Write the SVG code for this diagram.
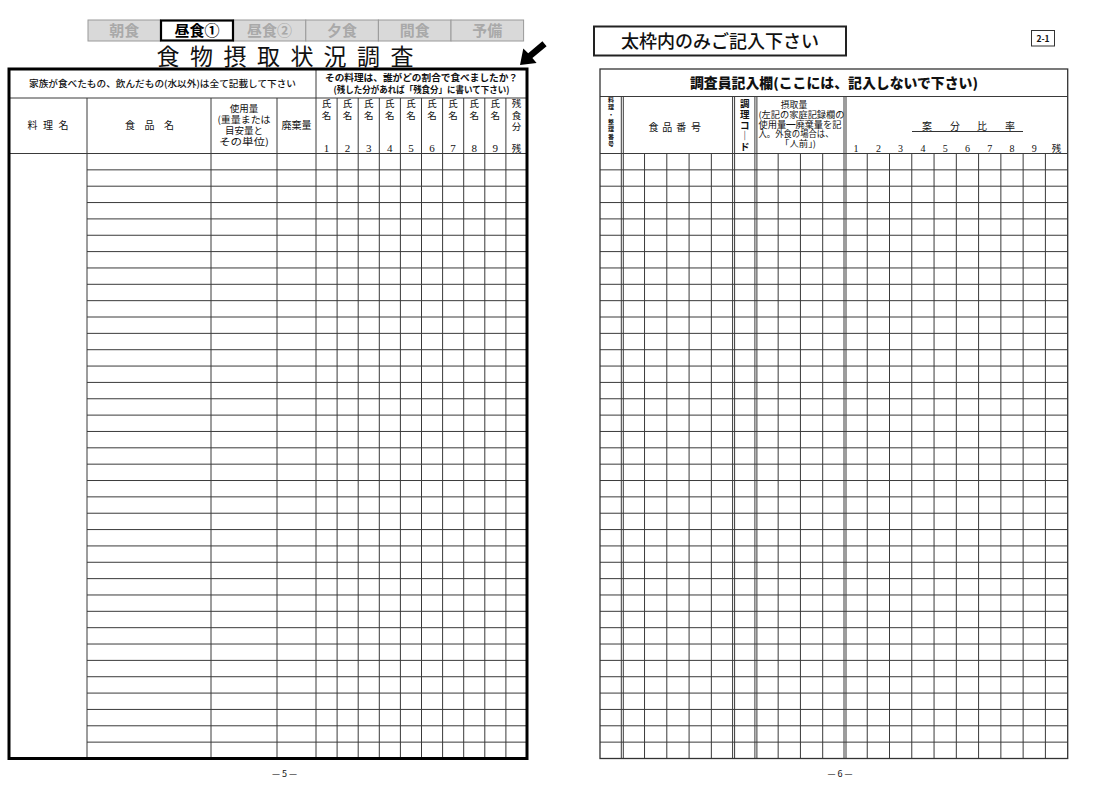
<svg xmlns="http://www.w3.org/2000/svg" width="1105" height="789" viewBox="0 0 1105 789">
<style>
.g{stroke:#3a3a3a;stroke-width:1;fill:none}
.t{font-family:"Noto Sans CJK JP","Noto Sans",sans-serif;fill:#111}
.n{font-family:"Liberation Serif","DejaVu Serif",serif;fill:#111}
.c{text-anchor:middle}
.tab{fill:#d9d9d9;stroke:#9a9a9a;stroke-width:1}
.tabt{font-family:"Noto Sans CJK JP",sans-serif;font-weight:700;font-size:15px;fill:#a9a9a9;text-anchor:middle}
.v{font-family:"Noto Sans CJK JP",sans-serif;font-size:6px;font-weight:700;fill:#111;text-anchor:middle}
.k{font-family:"Noto Sans CJK JP",sans-serif;font-size:9.5px;font-weight:700;fill:#111;text-anchor:middle}
</style>
<rect width="1105" height="789" fill="#fff"/>

<g id="meal-tabs">
<rect class="tab" x="88" y="20" width="72.6" height="21"/>
<rect class="tab" x="233.2" y="20" width="72.6" height="21"/>
<rect class="tab" x="305.8" y="20" width="72.6" height="21"/>
<rect class="tab" x="378.4" y="20" width="72.6" height="21"/>
<rect class="tab" x="451" y="20" width="72.6" height="21"/>
<rect x="161" y="20.5" width="72" height="20" fill="#fff" stroke="#000" stroke-width="2.2"/>
<text class="tabt" x="124.3" y="36">朝食</text>
<text class="tabt" x="197" y="36" style="fill:#000">昼食①</text>
<text class="tabt" x="269.5" y="36">昼食②</text>
<text class="tabt" x="342.1" y="36">夕食</text>
<text class="tabt" x="414.7" y="36">間食</text>
<text class="tabt" x="487.3" y="36">予備</text>
</g>

<g id="title">
<text class="t c" x="168 201.5 235 268.5 302 335 368.5 402" y="65" font-size="23" font-weight="400">食物摂取状況調査</text>
</g>

<g id="arrow">
<polygon points="542.4,41.2 546.6,46.3 532.4,58 536.6,63.1 520,65 523.3,48.4 528.2,53.3" fill="#000"/>
</g>

<g id="left-table">
<path class="g" d="M87 169.85h440m-440 16.351h440m-440 16.351h440m-440 16.351h440m-440 16.351h440m-440 16.351h440m-440 16.351h440m-440 16.351h440m-440 16.351h440m-440 16.351h440m-440 16.351h440m-440 16.351h440m-440 16.351h440m-440 16.351h440m-440 16.351h440m-440 16.351h440m-440 16.351h440m-440 16.351h440m-440 16.351h440m-440 16.351h440m-440 16.351h440m-440 16.351h440m-440 16.351h440m-440 16.351h440m-440 16.351h440m-440 16.351h440m-440 16.351h440m-440 16.351h440m-440 16.351h440m-440 16.351h440m-440 16.351h440m-440 16.351h440m-440 16.351h440m-440 16.351h440m-440 16.351h440m-440 16.351h440"/>
<path class="g" d="M9 98H527M9 153.5H527M87 98V758.5M211 98V758.5M277 98V758.5M337.1 98V758.5M358.2 98V758.5M379.3 98V758.5M400.4 98V758.5M421.5 98V758.5M442.6 98V758.5M463.7 98V758.5M484.8 98V758.5M505.9 98V758.5"/>
<path class="g" d="M316 69V758.5" stroke-width="1.7"/>
<rect x="9" y="69" width="518" height="689.5" fill="none" stroke="#000" stroke-width="3"/>

<text class="t c" x="162.5" y="87.3" font-size="9.2" font-weight="500" textLength="267" lengthAdjust="spacingAndGlyphs">家族が食べたもの、飲んだもの(水以外)は全て記載して下さい</text>
<text class="t c" x="421.5" y="81" font-size="9.5" font-weight="700" textLength="193" lengthAdjust="spacingAndGlyphs">その料理は、誰がどの割合で食べましたか？</text>
<text class="t c" x="421.5" y="92.7" font-size="9" font-weight="700" textLength="176" lengthAdjust="spacingAndGlyphs">(残した分があれば「残食分」に書いて下さい)</text>

<text class="t c" x="32.5 48 63.5" y="129" font-size="10">料理名</text>
<text class="t c" x="130 149.5 169" y="129" font-size="10">食品名</text>
<text class="t c" x="244" y="112" font-size="9.5">使用量</text>
<text class="t c" x="244" y="123" font-size="9.5" textLength="53" lengthAdjust="spacingAndGlyphs">(重量または</text>
<text class="t c" x="244" y="134" font-size="9.5">目安量と</text>
<text class="t c" x="244" y="145" font-size="9.5" textLength="50" lengthAdjust="spacingAndGlyphs">その単位)</text>
<text class="t c" x="296.5" y="129" font-size="10">廃棄量</text>

<text class="t c" x="326.5 347.6 368.7 389.8 410.9 432 453.1 474.2 495.3" y="107" font-size="9.5">氏氏氏氏氏氏氏氏氏</text>
<text class="t c" x="326.5 347.6 368.7 389.8 410.9 432 453.1 474.2 495.3" y="118.5" font-size="9.5">名名名名名名名名名</text>
<text class="n c" x="326.5 347.6 368.7 389.8 410.9 432 453.1 474.2 495.3" y="151.5" font-size="11">123456789</text>
<text class="t c" x="516.4" y="107" font-size="9.5">残</text>
<text class="t c" x="516.4" y="118.5" font-size="9.5">食</text>
<text class="t c" x="516.4" y="130" font-size="9.5">分</text>
<text class="t c" x="516.4" y="151.5" font-size="9.5">残</text>
</g>

<g id="page-5">
<text class="t c" x="284.5" y="777" font-size="9">— 5 —</text>
</g>

<g id="notice-box">
<rect x="594" y="26.5" width="252" height="29" fill="#fff" stroke="#222" stroke-width="2"/>
<text class="t c" x="720" y="47.5" font-size="18" font-weight="500">太枠内のみご記入下さい</text>
</g>

<g id="sheet-code">
<rect x="1031.5" y="30.5" width="23" height="15.5" fill="#fff" stroke="#333" stroke-width="1"/>
<text class="t c" x="1043" y="41.5" font-size="8.5" font-weight="700">2-1</text>
</g>

<g id="right-table">
<path class="g" d="M600 169.85h467.7m-467.7 16.351h467.7m-467.7 16.351h467.7m-467.7 16.351h467.7m-467.7 16.351h467.7m-467.7 16.351h467.7m-467.7 16.351h467.7m-467.7 16.351h467.7m-467.7 16.351h467.7m-467.7 16.351h467.7m-467.7 16.351h467.7m-467.7 16.351h467.7m-467.7 16.351h467.7m-467.7 16.351h467.7m-467.7 16.351h467.7m-467.7 16.351h467.7m-467.7 16.351h467.7m-467.7 16.351h467.7m-467.7 16.351h467.7m-467.7 16.351h467.7m-467.7 16.351h467.7m-467.7 16.351h467.7m-467.7 16.351h467.7m-467.7 16.351h467.7m-467.7 16.351h467.7m-467.7 16.351h467.7m-467.7 16.351h467.7m-467.7 16.351h467.7m-467.7 16.351h467.7m-467.7 16.351h467.7m-467.7 16.351h467.7m-467.7 16.351h467.7m-467.7 16.351h467.7m-467.7 16.351h467.7m-467.7 16.351h467.7m-467.7 16.351h467.7"/>
<path class="g" d="M600 96.5H1067.7M600 153.5H1067.7M644.54 153.5V758.5M666.81 153.5V758.5M689.08 153.5V758.5M711.35 153.5V758.5M778.16 153.5V758.5M800.43 153.5V758.5M822.7 153.5V758.5M867.24 153.5V758.5M889.51 153.5V758.5M911.78 153.5V758.5M934.05 153.5V758.5M956.32 153.5V758.5M978.59 153.5V758.5M1000.86 153.5V758.5M1023.13 153.5V758.5M1045.4 153.5V758.5"/>
<path class="g" d="M621.3 96.5V758.5M623.3 96.5V758.5M732.6 96.5V758.5M734.6 96.5V758.5M754.9 96.5V758.5M756.9 96.5V758.5M844 96.5V758.5M846 96.5V758.5"/>
<rect x="600" y="69" width="467.7" height="689.5" fill="none" stroke="#333" stroke-width="1.3"/>

<text class="t c" x="834" y="88" font-size="13.5" font-weight="900" textLength="288" lengthAdjust="spacingAndGlyphs">調査員記入欄(ここには、記入しないで下さい)</text>

<text class="v" x="611.1" y="102">料</text>
<text class="v" x="611.1" y="109.3">理</text>
<text class="v" x="611.1" y="116.6">・</text>
<text class="v" x="611.1" y="123.9">整</text>
<text class="v" x="611.1" y="131.2">理</text>
<text class="v" x="611.1" y="138.5">番</text>
<text class="v" x="611.1" y="145.8">号</text>

<text class="t c" x="653.5 667.3 681.3 696" y="130.6" font-size="10">食品番号</text>

<text class="k" x="744.8" y="107">調</text>
<text class="k" x="744.8" y="117.8">理</text>
<text class="k" x="744.8" y="128.6">コ</text>
<text class="k" x="744.8" y="139.4">｜</text>
<text class="k" x="744.8" y="150.2">ド</text>

<text class="t c" x="794" y="108.2" font-size="8.8">摂取量</text>
<text class="t" x="758.5" y="118.3" font-size="8.6" textLength="86" lengthAdjust="spacingAndGlyphs">(左記の家庭記録欄の</text>
<text class="t" x="758.5" y="127.5" font-size="8.6" textLength="83" lengthAdjust="spacingAndGlyphs">使用量━廃棄量を記</text>
<text class="t" x="758.5" y="136.5" font-size="8.6" textLength="75" lengthAdjust="spacingAndGlyphs">入。外食の場合は、</text>
<text class="t" x="780" y="146.5" font-size="8.6" textLength="36" lengthAdjust="spacingAndGlyphs">「人前」)</text>

<text class="t c" x="927 955 982 1010" y="129.5" font-size="10">案分比率</text>
<path d="M912 131.5H1023" stroke="#333" stroke-width="1.2"/>
<text class="n c" x="856.1 878.4 900.6 922.9 945.2 967.5 989.7 1012 1034.3" y="152" font-size="10">123456789</text>
<text class="t c" x="1056.5" y="152" font-size="9.5">残</text>
</g>

<g id="page-6">
<text class="t c" x="840" y="777" font-size="9">— 6 —</text>
</g>
</svg>
